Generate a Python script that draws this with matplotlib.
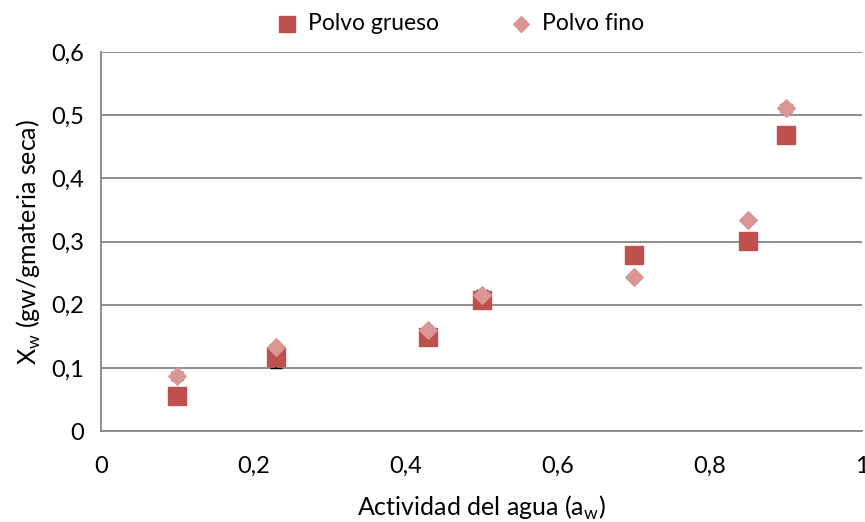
import numpy as np
import matplotlib.pyplot as plt

# water activity and moisture content
aw = [0.1, 0.23, 0.43, 0.5, 0.7, 0.85, 0.9]
x_grueso = [0.055, 0.117, 0.149, 0.207, 0.278, 0.301, 0.468]
x_fino = [0.087, 0.133, 0.160, 0.215, 0.244, 0.334, 0.511]
err_grueso = [0.0, 0.018, 0.0, 0.0, 0.0, 0.0, 0.0]
err_fino = [0.006, 0.0, 0.0, 0.008, 0.0, 0.0, 0.006]

y_ticks = [0, 0.1, 0.2, 0.3, 0.4, 0.5, 0.6]
x_ticks = [0, 0.2, 0.4, 0.6, 0.8, 1.0]

plt.rcParams['font.family'] = ['Lato', 'DejaVu Sans']

fig = plt.figure(figsize=(8.65, 5.22), dpi=100)
ax = fig.add_axes([0.1168, 0.1743, 0.8797, 0.7261])

ax.errorbar(aw, x_grueso, yerr=err_grueso, fmt='none', ecolor='black', capsize=4, elinewidth=1.2, zorder=2)
ax.errorbar(aw, x_fino, yerr=err_fino, fmt='none', ecolor='black', capsize=4, elinewidth=1.2, zorder=2)
ax.scatter(aw, x_grueso, marker='s', s=150, color='#C0504D', label='Polvo grueso', zorder=3)
ax.scatter(aw, x_fino, marker='D', s=80, color='#D99694', label='Polvo fino', zorder=4)

ax.set_xlim(0, 1)
ax.set_ylim(0, 0.6)
ax.set_yticks(y_ticks)
ax.set_xticks(x_ticks)
ax.set_yticklabels([f"{v:g}".replace('.', ',') for v in y_ticks])
ax.set_xticklabels([f"{v:g}".replace('.', ',') for v in x_ticks])
ax.yaxis.grid(True, color='#868686', linewidth=1.3)
ax.set_axisbelow(True)
for s in ['top', 'right']:
    ax.spines[s].set_visible(False)
for s in ['left', 'bottom']:
    ax.spines[s].set_color('#868686')
    ax.spines[s].set_linewidth(1.3)
ax.tick_params(length=0, labelsize=17)
ax.tick_params(axis='y', pad=12)
ax.tick_params(axis='x', pad=18)

ax.set_xlabel('Actividad del agua (a$_\\mathregular{w}$)', fontsize=18, labelpad=12)
ax.set_ylabel('X$_\\mathregular{w}$ (gw/gmateria seca)', fontsize=18, labelpad=6)

fig.legend(loc='upper center', bbox_to_anchor=(0.525, 1.015), ncol=2, frameon=False,
           fontsize=16.5, handletextpad=-0.1, columnspacing=2.6, markerscale=0.9)

fig.savefig('out.png')
